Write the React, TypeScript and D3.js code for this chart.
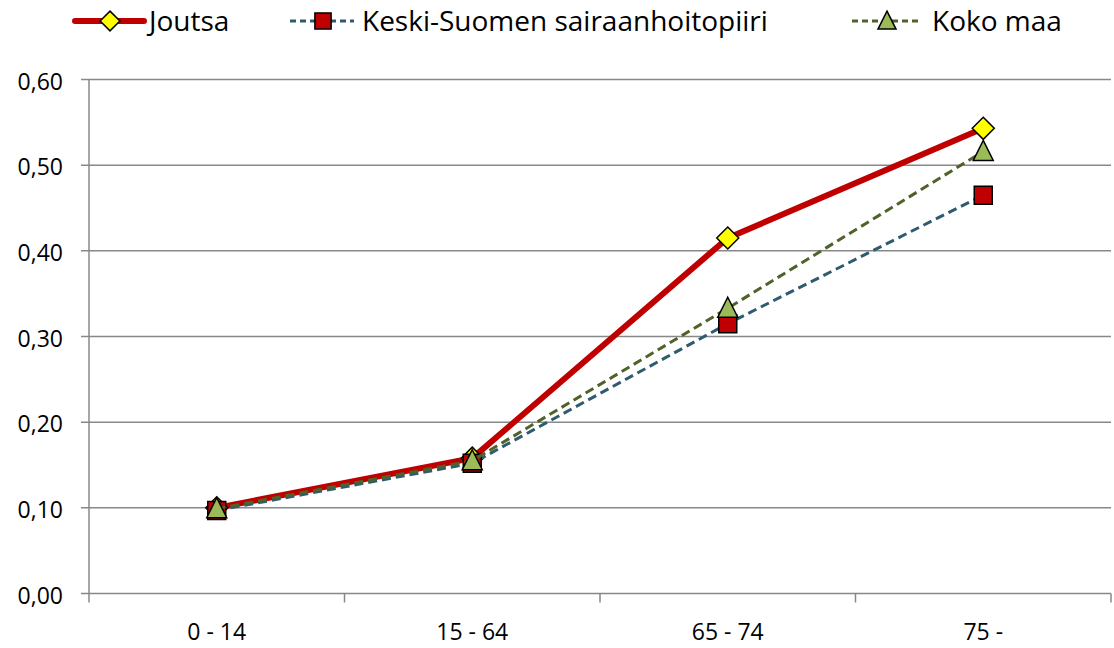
import React, { useEffect, useRef } from 'react';
import * as d3 from 'd3';

const categories = ['0 - 14', '15 - 64', '65 - 74', '75 -'];
const joutsa = [0.100, 0.158, 0.415, 0.543];
const keskiSuomi = [0.097, 0.152, 0.315, 0.465];
const kokoMaa = [0.099, 0.155, 0.333, 0.516];
const yTicks = [0, 0.1, 0.2, 0.3, 0.4, 0.5, 0.6];

const seriesList = [
    { name: 'Joutsa', values: joutsa, color: '#C00000', width: 6, dash: null, marker: 'diamond', fill: '#FFFF00' },
    { name: 'Keski-Suomen sairaanhoitopiiri', values: keskiSuomi, color: '#2E5C6E', width: 3, dash: '9,5', marker: 'square', fill: '#C00000' },
    { name: 'Koko maa', values: kokoMaa, color: '#4F6228', width: 3, dash: '9,5', marker: 'triangle', fill: '#9BBB59' }
];

const FONT = 'Open Sans, sans-serif';

function graphRegion() {
    return { width: 1114, height: 648, left: 89, right: 1111, top: 79.5, bottom: 593.5 };
}

function markerPath(type: string) {
    if (type === 'diamond') return 'M0,-11L11,0L0,11L-11,0Z';
    if (type === 'square') return 'M-9,-9L9,-9L9,9L-9,9Z';
    return 'M0,-11L10,9L-10,9Z';
}

function drawChart(node: SVGSVGElement) {
    const g = graphRegion();
    const svg = d3.select(node);
    svg.selectAll('*').remove();

    const xScale = d3.scaleBand<string>().domain(categories).range([g.left, g.right]);
    const yScale = d3.scaleLinear().domain([0, 0.6]).range([g.bottom, g.top]);
    const fmt = (v: number) => d3.format('.2f')(v).replace('.', ',');

    // grid lines
    svg.append('g').selectAll('line').data(yTicks).enter().append('line')
        .attr('x1', g.left - 8).attr('x2', g.right)
        .attr('y1', (d) => yScale(d)).attr('y2', (d) => yScale(d))
        .attr('stroke', '#888888').attr('stroke-width', 1.5);

    // y axis line
    svg.append('line')
        .attr('x1', g.left).attr('x2', g.left).attr('y1', g.top).attr('y2', g.bottom)
        .attr('stroke', '#888888').attr('stroke-width', 1.5);

    svg.append('g').selectAll('text').data(yTicks).enter().append('text')
        .text((d) => fmt(d))
        .attr('x', 63).attr('y', (d) => yScale(d) + 10)
        .attr('text-anchor', 'end')
        .style('font-family', FONT).style('font-size', '23px').attr('fill', '#000');

    // x axis ticks at band edges
    const edges = categories.map((c) => xScale(c) as number).concat([g.right]);
    svg.append('g').selectAll('line').data(edges).enter().append('line')
        .attr('x1', (d) => d).attr('x2', (d) => d)
        .attr('y1', g.bottom).attr('y2', g.bottom + 9)
        .attr('stroke', '#888888').attr('stroke-width', 1.5);

    svg.append('g').selectAll('text').data(categories).enter().append('text')
        .text((d) => d)
        .attr('x', (d) => (xScale(d) as number) + xScale.bandwidth() / 2)
        .attr('y', 640)
        .attr('text-anchor', 'middle')
        .style('font-family', FONT).style('font-size', '23px').attr('fill', '#000');

    const cx = (i: number) => (xScale(categories[i]) as number) + xScale.bandwidth() / 2;
    const line = d3.line<number>()
        .x((d, i) => cx(i))
        .y((d) => yScale(d));

    seriesList.forEach((s) => {
        svg.append('path')
            .datum(s.values)
            .attr('d', line)
            .attr('fill', 'none')
            .attr('stroke', s.color)
            .attr('stroke-width', s.width)
            .attr('stroke-dasharray', s.dash)
            .attr('stroke-linejoin', 'round');
        svg.append('g').selectAll('path').data(s.values).enter().append('path')
            .attr('d', markerPath(s.marker))
            .attr('transform', (d, i) => 'translate(' + cx(i) + ',' + yScale(d) + ')')
            .attr('fill', s.fill).attr('stroke', '#000').attr('stroke-width', 1.5);
    });

    // legend
    const legendPos = [
        { x1: 75, x2: 144, m: 110, tx: 149 },
        { x1: 290, x2: 354, m: 323, tx: 362 },
        { x1: 852, x2: 922, m: 887, tx: 932 }
    ];
    const ly = 21;
    seriesList.forEach((s, i) => {
        const p = legendPos[i];
        svg.append('line')
            .attr('x1', p.x1).attr('x2', p.x2).attr('y1', ly).attr('y2', ly)
            .attr('stroke', s.color).attr('stroke-width', s.width)
            .attr('stroke-dasharray', s.dash ? '6,4' : null)
            .attr('stroke-linecap', s.dash ? 'butt' : 'round');
        svg.append('path')
            .attr('d', markerPath(s.marker))
            .attr('transform', 'translate(' + p.m + ',' + ly + ') scale(0.9)')
            .attr('fill', s.fill).attr('stroke', '#000').attr('stroke-width', 1.7);
        svg.append('text')
            .text(s.name)
            .attr('x', p.tx).attr('y', ly + 10)
            .style('font-family', FONT).style('font-size', '28px').attr('fill', '#000');
    });
}

export default function App() {
    const ref = useRef<SVGSVGElement>(null);
    useEffect(() => {
        if (ref.current) drawChart(ref.current);
    }, []);
    const g = graphRegion();
    return (
        <svg ref={ref} width={g.width} height={g.height}
            style={{ position: 'absolute', left: 0, top: 0, background: '#fff' }} />
    );
}
